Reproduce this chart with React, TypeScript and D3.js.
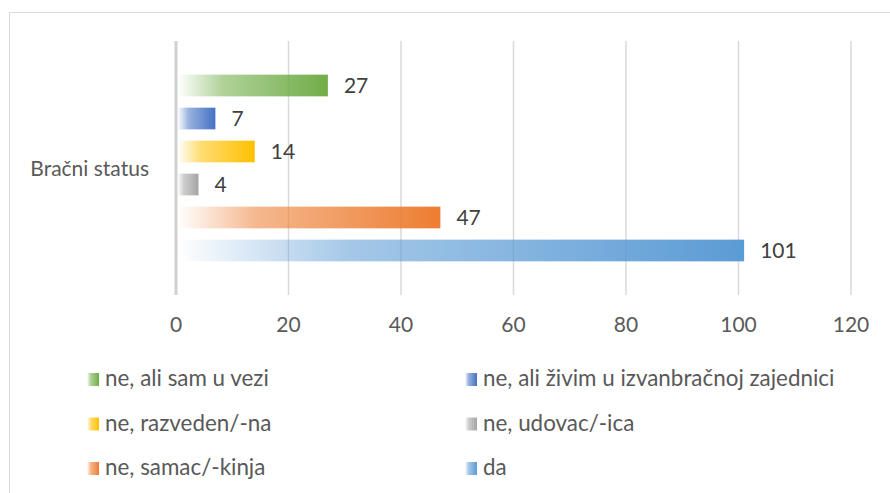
import React, { useEffect } from 'react'
import { scaleLinear, scaleBand } from 'd3'

// data
const category = 'Bračni status'
const seriesNames = [
  'ne, ali sam u vezi',
  'ne, ali živim u izvanbračnoj zajednici',
  'ne, razveden/-na',
  'ne, udovac/-ica',
  'ne, samac/-kinja',
  'da',
]
const seriesValues = [27, 7, 14, 4, 47, 101]
const seriesColors = ['#70AD47', '#4472C4', '#FFC000', '#A5A5A5', '#ED7D31', '#5B9BD5']
const tickValues = [0, 20, 40, 60, 80, 100, 120]

const FONT = 'Lato, "Noto Sans", sans-serif'

const App = () => {
  useEffect(() => {
    document.body.style.margin = '0'
  }, [])

  const xScale = scaleLinear().domain([0, 120]).range([176, 851])
  const yScale = scaleBand<string>()
    .domain(seriesNames)
    .range([41, 295])
    .paddingInner(0.342)
    .paddingOuter(1.02)

  const plotTop = 41
  const plotBottom = 295
  const plotMid = (plotTop + plotBottom) / 2

  return (
    <svg width={890} height={493} style={{ display: 'block' }}>
      <defs>
        {seriesColors.map((c, i) => (
          <linearGradient key={i} id={`grad${i}`} x1="0" y1="0" x2="1" y2="0">
            <stop offset="0" stopColor={c} stopOpacity={0} />
            <stop offset="0.3" stopColor={c} stopOpacity={0.55} />
            <stop offset="1" stopColor={c} stopOpacity={1} />
          </linearGradient>
        ))}
      </defs>
      <rect x={0} y={0} width={890} height={493} fill="#ffffff" />
      <rect x={9.5} y={12.5} width={900} height={500} fill="none" stroke="#d9d9d9" strokeWidth={1} />

      {/* gridlines */}
      {tickValues.map(t => (
        <line
          key={t}
          x1={xScale(t)}
          x2={xScale(t)}
          y1={plotTop}
          y2={plotBottom}
          stroke={t === 0 ? '#d0d0d0' : '#d9d9d9'}
          strokeWidth={t === 0 ? 3 : 1.5}
        />
      ))}

      {/* bars */}
      {seriesNames.map((name, i) => (
        <rect
          key={name}
          x={xScale(0) + 1.5}
          y={yScale(name)}
          width={xScale(seriesValues[i]) - xScale(0) - 1.5}
          height={yScale.bandwidth()}
          fill={`url(#grad${i})`}
        />
      ))}

      {/* value labels */}
      {seriesNames.map((name, i) => (
        <text
          key={name}
          x={xScale(seriesValues[i]) + 16}
          y={(yScale(name) as number) + yScale.bandwidth() / 2 + 7.5}
          fontFamily={FONT}
          fontSize={21}
          fill="#404040"
        >
          {seriesValues[i]}
        </text>
      ))}

      {/* category label */}
      <text x={149} y={plotMid + 7.5} textAnchor="end" fontFamily={FONT} fontSize={21} fill="#595959">
        {category}
      </text>

      {/* x tick labels */}
      {tickValues.map(t => (
        <text key={t} x={xScale(t)} y={332} textAnchor="middle" fontFamily={FONT} fontSize={21} fill="#595959">
          {t}
        </text>
      ))}

      {/* legend */}
      {seriesNames.map((name, i) => {
        const col = i % 2
        const row = Math.floor(i / 2)
        const mx = col === 0 ? 87 : 465
        const baseline = 386 + row * 44.5
        return (
          <g key={name}>
            <rect x={mx} y={baseline - 13} width={12} height={13} fill={`url(#grad${i})`} />
            <text x={mx + 18} y={baseline} fontFamily={FONT} fontSize={22.4} fill="#595959">
              {name}
            </text>
          </g>
        )
      })}
    </svg>
  )
}

export default App
